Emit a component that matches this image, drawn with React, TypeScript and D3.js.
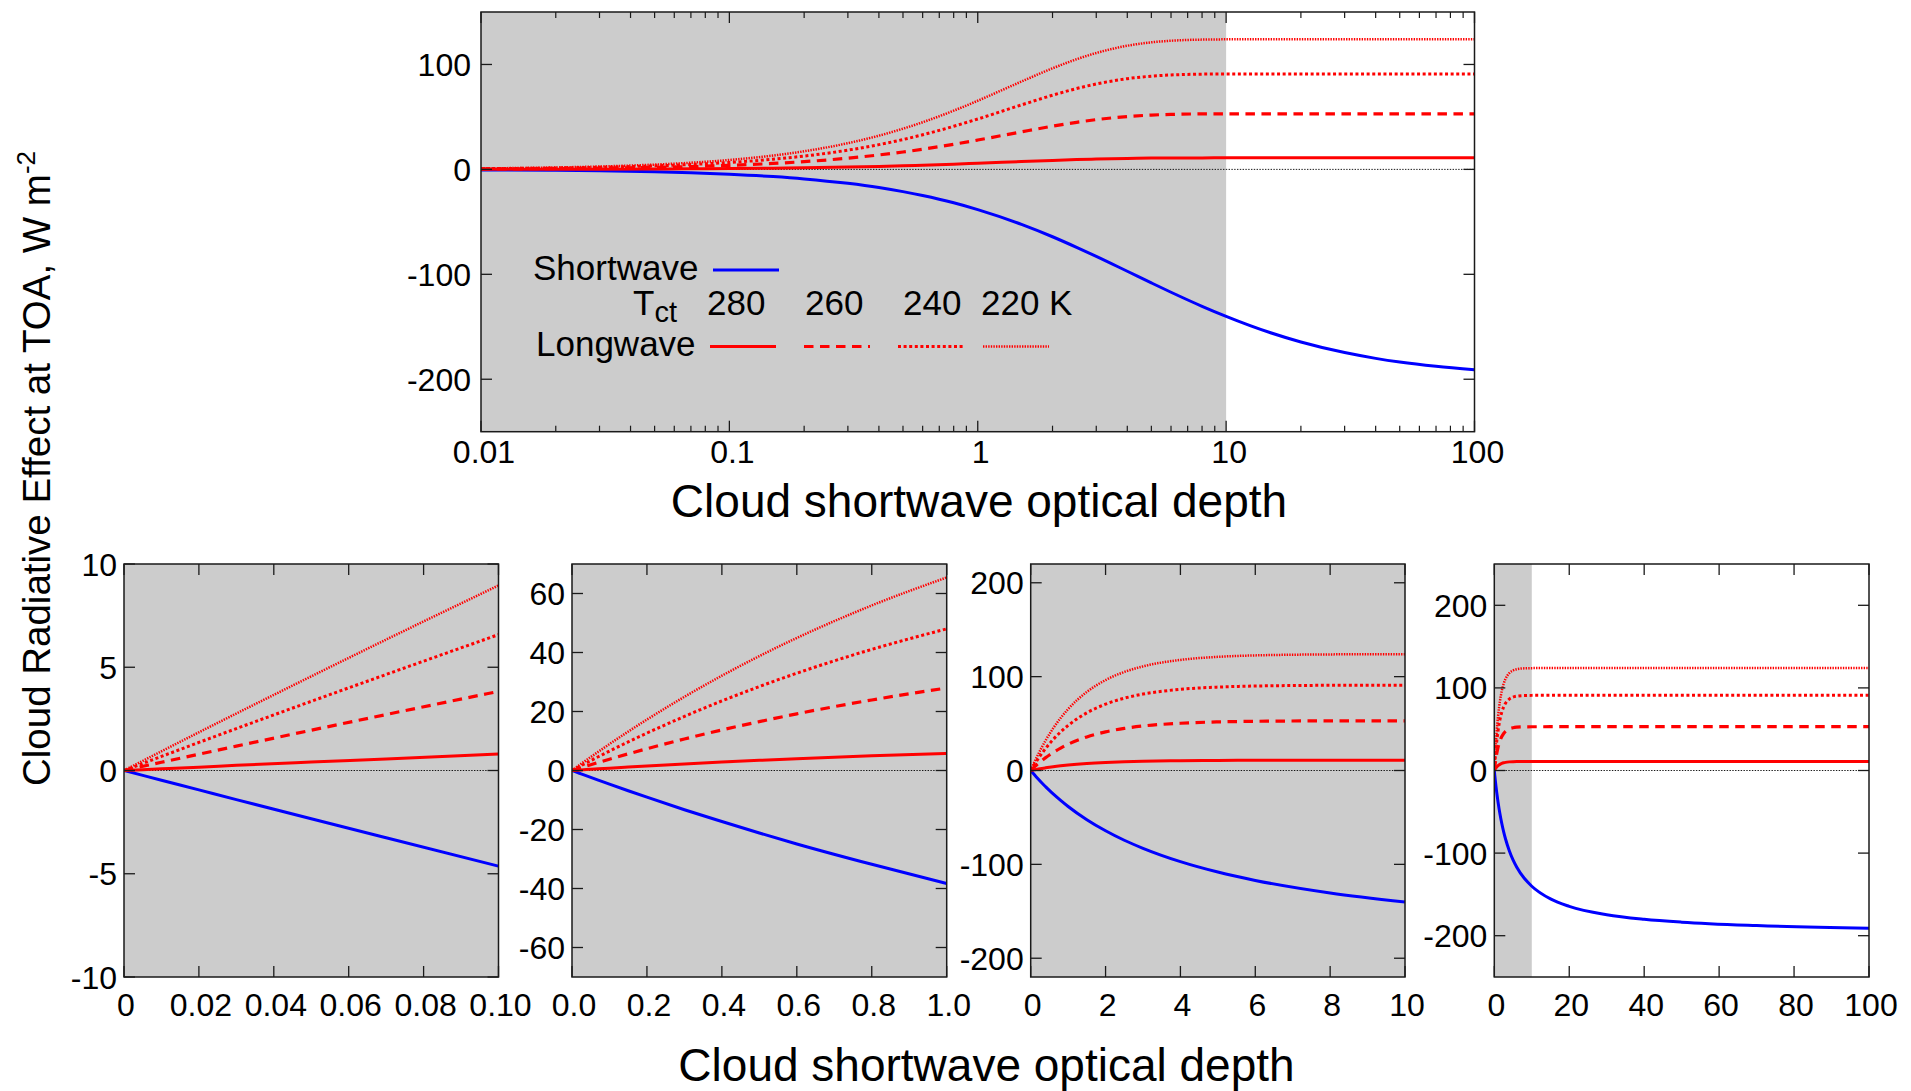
import React from 'react';
import * as d3 from 'd3';

// ---- data ----
const tau = [0, 0.01, 0.02, 0.03, 0.05, 0.07, 0.1, 0.15, 0.2, 0.3, 0.4, 0.5, 0.6, 0.8, 1, 1.5, 2, 2.5, 3, 4, 5, 6, 8, 10, 15, 20, 30, 40, 50, 70, 100];
const swCRE = [0, -0.47, -0.94, -1.41, -2.34, -3.26, -4.63, -6.86, -9.05, -13.3, -17.3, -21.2, -24.9, -31.8, -38.3, -52.4, -64.2, -74.3, -82.9, -97.1, -108.2, -117.1, -130.5, -140.1, -155.5, -164.5, -174.6, -180.1, -183.6, -187.7, -191.0];
const lw280 = [0, 0.08, 0.16, 0.25, 0.41, 0.56, 0.8, 1.17, 1.53, 2.22, 2.85, 3.44, 3.99, 4.96, 5.8, 7.43, 8.55, 9.31, 9.84, 10.45, 10.74, 10.88, 10.97, 10.99, 11, 11, 11, 11, 11, 11, 11];
const lw260 = [0, 0.4, 0.79, 1.18, 1.95, 2.71, 3.83, 5.64, 7.38, 10.68, 13.74, 16.57, 19.21, 23.91, 27.96, 35.79, 41.17, 44.87, 47.41, 50.36, 51.75, 52.41, 52.87, 52.97, 53, 53, 53, 53, 53, 53, 53];
const lw240 = [0, 0.68, 1.36, 2.03, 3.35, 4.65, 6.58, 9.68, 12.68, 18.33, 23.59, 28.46, 32.98, 41.06, 48.01, 61.46, 70.69, 77.04, 81.41, 86.47, 88.86, 89.99, 90.77, 90.95, 91, 91, 91, 91, 91, 91, 91];
const lw220 = [0, 0.93, 1.85, 2.76, 4.56, 6.34, 8.96, 13.19, 17.27, 24.98, 32.14, 38.78, 44.93, 55.95, 65.43, 83.74, 96.33, 104.98, 110.93, 117.83, 121.08, 122.62, 123.69, 123.93, 124, 124, 124, 124, 124, 124, 124];

const tctLabels = ['280', '260', '240', '220 K'];

const topXTicks = [0.01, 0.1, 1, 10, 100];
const topXLabels = ['0.01', '0.1', '1', '10', '100'];
const topYTicks = [-200, -100, 0, 100];

const p1XTicks = [0, 0.02, 0.04, 0.06, 0.08, 0.1];
const p1XLabels = ['0', '0.02', '0.04', '0.06', '0.08', '0.10'];
const p1YTicks = [-10, -5, 0, 5, 10];
const p2XTicks = [0, 0.2, 0.4, 0.6, 0.8, 1];
const p2XLabels = ['0.0', '0.2', '0.4', '0.6', '0.8', '1.0'];
const p2YTicks = [-60, -40, -20, 0, 20, 40, 60];
const p3XTicks = [0, 2, 4, 6, 8, 10];
const p3XLabels = ['0', '2', '4', '6', '8', '10'];
const p3YTicks = [-200, -100, 0, 100, 200];
const p4XTicks = [0, 20, 40, 60, 80, 100];
const p4XLabels = ['0', '20', '40', '60', '80', '100'];
const p4YTicks = [-200, -100, 0, 100, 200];

// ---- styles ----
const FONT = '"Liberation Sans", Arial, Helvetica, sans-serif';
const RED = '#ff0000';
const BLUE = '#0000ff';
const SHADE = '#cccccc';
const TICK_FS = 32;

const seriesStyles = [
  { values: swCRE, color: BLUE, width: 3, dash: undefined as string | undefined },
  { values: lw280, color: RED, width: 3, dash: undefined },
  { values: lw260, color: RED, width: 3.2, dash: '9.5 6.5' },
  { values: lw240, color: RED, width: 3, dash: '3 2.6' },
  { values: lw220, color: RED, width: 2.5, dash: '1.4 1.2' },
];

type PanelProps = {
  id: string;
  x0: number; x1: number; y0: number; y1: number;
  log?: boolean;
  xDomain: [number, number];
  yDomain: [number, number];
  shadeTo: number;
  xTicks: number[]; xLabels: string[];
  yTicks: number[];
  xLabelY: number;
  yLabelGap: number;
  xLabelDx: number;
};

function Panel(p: PanelProps) {
  const xs = p.log
    ? d3.scaleLog().domain(p.xDomain).range([p.x0, p.x1])
    : d3.scaleLinear().domain(p.xDomain).range([p.x0, p.x1]);
  const ys = d3.scaleLinear().domain(p.yDomain).range([p.y1, p.y0]);
  const idx = tau.map((_, i) => i).filter(i => tau[i] >= (p.log ? p.xDomain[0] : 0) && tau[i] <= p.xDomain[1]);
  const paths = seriesStyles.map(s =>
    d3.line<number>().x(i => xs(tau[i])).y(i => ys(s.values[i])).curve(d3.curveMonotoneX)(idx) || ''
  );
  const majLen = 11;
  const minLen = 6;
  const minorTicks = p.log
    ? (xs as d3.ScaleLogarithmic<number, number>).ticks().filter(t => !p.xTicks.some(m => Math.abs(m - t) < 1e-9))
    : [];
  const frame = '#1a1a1a';
  return (
    <g>
      <defs>
        <clipPath id={p.id}>
          <rect x={p.x0} y={p.y0} width={p.x1 - p.x0} height={p.y1 - p.y0} />
        </clipPath>
      </defs>
      <rect x={p.x0} y={p.y0} width={xs(p.shadeTo) - p.x0} height={p.y1 - p.y0} fill={SHADE} />
      <line x1={p.x0} x2={p.x1} y1={ys(0)} y2={ys(0)} stroke="#000" strokeWidth={0.9} strokeDasharray="1.4 1.4" />
      <g clipPath={`url(#${p.id})`}>
        {paths.map((d, k) => (
          <path key={k} d={d} fill="none" stroke={seriesStyles[k].color} strokeWidth={seriesStyles[k].width}
            strokeDasharray={seriesStyles[k].dash} />
        ))}
      </g>
      {p.xTicks.map((t, k) => (
        <g key={'xt' + k}>
          <line x1={xs(t)} x2={xs(t)} y1={p.y1} y2={p.y1 - majLen} stroke={frame} strokeWidth={1.3} />
          <line x1={xs(t)} x2={xs(t)} y1={p.y0} y2={p.y0 + majLen} stroke={frame} strokeWidth={1.3} />
          <text x={xs(t) + p.xLabelDx} y={p.xLabelY} textAnchor="middle" fontSize={TICK_FS} fontFamily={FONT} fill="#000">
            {p.xLabels[k]}
          </text>
        </g>
      ))}
      {minorTicks.map((t, k) => (
        <g key={'mt' + k}>
          <line x1={xs(t)} x2={xs(t)} y1={p.y1} y2={p.y1 - minLen} stroke={frame} strokeWidth={1.2} />
          <line x1={xs(t)} x2={xs(t)} y1={p.y0} y2={p.y0 + minLen} stroke={frame} strokeWidth={1.2} />
        </g>
      ))}
      {p.yTicks.map((t, k) => (
        <g key={'yt' + k}>
          <line x1={p.x0} x2={p.x0 + majLen} y1={ys(t)} y2={ys(t)} stroke={frame} strokeWidth={1.3} />
          <line x1={p.x1} x2={p.x1 - majLen} y1={ys(t)} y2={ys(t)} stroke={frame} strokeWidth={1.3} />
          <text x={p.x0 - p.yLabelGap} y={ys(t) + 11.5} textAnchor="end" fontSize={TICK_FS} fontFamily={FONT} fill="#000">
            {String(t)}
          </text>
        </g>
      ))}
      <rect x={p.x0} y={p.y0} width={p.x1 - p.x0} height={p.y1 - p.y0} fill="none" stroke={frame} strokeWidth={1.5} />
    </g>
  );
}

function Legend() {
  const fs = 35;
  const legendSegs = [
    { x1: 710, x2: 776 },
    { x1: 804, x2: 870 },
    { x1: 898, x2: 965 },
    { x1: 983, x2: 1049 },
  ];
  const tctX = [707, 805, 903, 981];
  return (
    <g fontFamily={FONT} fill="#000">
      <text x={533} y={280} fontSize={fs}>Shortwave</text>
      <line x1={713} x2={779} y1={270} y2={270} stroke={BLUE} strokeWidth={3} />
      <text x={633} y={315} fontSize={fs}>T<tspan fontSize={29} dy={7}>ct</tspan></text>
      {tctLabels.map((l, k) => (
        <text key={k} x={tctX[k]} y={315} fontSize={fs}>{l}</text>
      ))}
      <text x={536} y={356} fontSize={fs}>Longwave</text>
      {legendSegs.map((s, k) => {
        const st = seriesStyles[k + 1];
        return (
          <line key={k} x1={s.x1} x2={s.x2} y1={346.5} y2={346.5} stroke={st.color} strokeWidth={st.width}
            strokeDasharray={st.dash} />
        );
      })}
    </g>
  );
}

export default function App() {
  const by0 = 564;
  const by1 = 977;
  return (
    <svg width={1911} height={1091} style={{ position: 'absolute', left: 0, top: 0, background: '#fff' }}>
      <rect x={0} y={0} width={1911} height={1091} fill="#fff" />
      <Panel id="cTop" x0={481} x1={1474.5} y0={12} y1={431.7} log xDomain={[0.01, 100]} yDomain={[-250, 150]}
        shadeTo={10} xTicks={topXTicks} xLabels={topXLabels} yTicks={topYTicks} xLabelY={463} yLabelGap={10} xLabelDx={3} />
      <Panel id="c1" x0={124} x1={498.5} y0={by0} y1={by1} xDomain={[0, 0.1]} yDomain={[-10, 10]}
        shadeTo={0.1} xTicks={p1XTicks} xLabels={p1XLabels} yTicks={p1YTicks} xLabelY={1016} yLabelGap={7} xLabelDx={2} />
      <Panel id="c2" x0={572} x1={946.7} y0={by0} y1={by1} xDomain={[0, 1]} yDomain={[-70, 70]}
        shadeTo={1} xTicks={p2XTicks} xLabels={p2XLabels} yTicks={p2YTicks} xLabelY={1016} yLabelGap={7} xLabelDx={2} />
      <Panel id="c3" x0={1030.7} x1={1405} y0={by0} y1={by1} xDomain={[0, 10]} yDomain={[-220, 220]}
        shadeTo={10} xTicks={p3XTicks} xLabels={p3XLabels} yTicks={p3YTicks} xLabelY={1016} yLabelGap={7} xLabelDx={2} />
      <Panel id="c4" x0={1494.3} x1={1869} y0={by0} y1={by1} xDomain={[0, 100]} yDomain={[-250, 250]}
        shadeTo={10} xTicks={p4XTicks} xLabels={p4XLabels} yTicks={p4YTicks} xLabelY={1016} yLabelGap={7} xLabelDx={2} />
      <Legend />
      <text x={979} y={517} textAnchor="middle" fontSize={46} fontFamily={FONT} fill="#000">Cloud shortwave optical depth</text>
      <text x={986.5} y={1081} textAnchor="middle" fontSize={46} fontFamily={FONT} fill="#000">Cloud shortwave optical depth</text>
      <text transform="translate(50,468.5) rotate(-90)" textAnchor="middle" fontSize={38.5} fontFamily={FONT} fill="#000">
        Cloud Radiative Effect at TOA, W m<tspan fontSize={26} dy={-15}>-2</tspan>
      </text>
    </svg>
  );
}
